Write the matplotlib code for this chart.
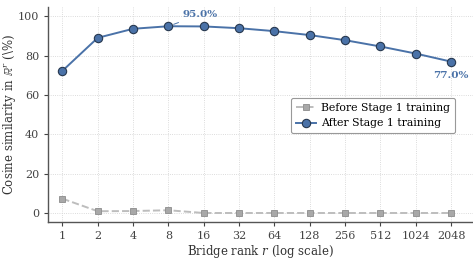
import numpy as np
import matplotlib.pyplot as plt

ranks = [1, 2, 4, 8, 16, 32, 64, 128, 256, 512, 1024, 2048]
before = [7.3, 0.9, 1.0, 1.4, 0.0, 0.0, 0.0, 0.0, 0.0, 0.0, 0.0, 0.0]
after = [72.3, 89.1, 93.7, 95.0, 94.9, 94.0, 92.5, 90.5, 87.9, 84.7, 81.1, 77.0]

plt.rcParams["font.family"] = "DejaVu Serif"
plt.rcParams["mathtext.fontset"] = "dejavuserif"

blue = "#4a72a8"
gray = "#a8a8a8"

fig, ax = plt.subplots(figsize=(4.73, 2.63), dpi=100)
fig.subplots_adjust(left=0.102, right=1.0, top=0.975, bottom=0.155)

ax.plot(ranks, before, linestyle="--", color="#bdbdbd", lw=1.4, marker="s",
        markersize=5, markerfacecolor=gray, markeredgecolor="#8c8c8c",
        markeredgewidth=0.6, label="Before Stage 1 training")
ax.plot(ranks, after, linestyle="-", color=blue, lw=1.4, marker="o",
        markersize=6, markerfacecolor=blue, markeredgecolor="#27384f",
        markeredgewidth=0.8, label="After Stage 1 training")

ax.set_xscale("log", base=2)
ax.set_xticks(ranks)
ax.set_xticklabels([str(r) for r in ranks])
ax.minorticks_off()
ax.set_xlim(2 ** -0.4, 2 ** 11.62)
ax.set_ylim(-4.7, 105)
ax.set_yticks([0, 20, 40, 60, 80, 100])

ax.tick_params(labelsize=8, colors="#444444", length=3)
for s in ["top", "right"]:
    ax.spines[s].set_visible(False)
for s in ["left", "bottom"]:
    ax.spines[s].set_color("#555555")
    ax.spines[s].set_linewidth(1.0)

ax.grid(True, linestyle=":", color="#d0d0d0", lw=0.6)
ax.set_axisbelow(True)

ax.set_xlabel(r"Bridge rank $r$ (log scale)", fontsize=8.5, color="#333333", labelpad=1)
ax.set_ylabel(r"Cosine similarity in $\mathbb{R}^r$ ($\backslash$%)", fontsize=8.5,
              color="#333333", labelpad=0)

# label the peak and the last point
i_max = int(np.argmax(after))
ax.annotate(f"{after[i_max]:.1f}%", xy=(ranks[i_max], after[i_max]),
            xytext=(10, 5), textcoords="offset points", fontsize=7.5,
            fontweight="bold", color=blue, ha="left", va="bottom",
            arrowprops=dict(arrowstyle="-", color=blue, lw=0.7, shrinkA=1, shrinkB=4))
ax.annotate(f"{after[-1]:.1f}%", xy=(ranks[-1], after[-1]),
            xytext=(0, -7), textcoords="offset points", fontsize=7.5,
            fontweight="bold", color=blue, ha="center", va="top")

leg = ax.legend(loc="center right", bbox_to_anchor=(0.97, 0.495), fontsize=7.8,
                frameon=True, fancybox=True, framealpha=1.0, edgecolor="#999999",
                handlelength=1.8, borderpad=0.45, labelspacing=0.55, handletextpad=0.5)
leg.get_frame().set_linewidth(0.8)

fig.savefig("out.png", dpi=100)
